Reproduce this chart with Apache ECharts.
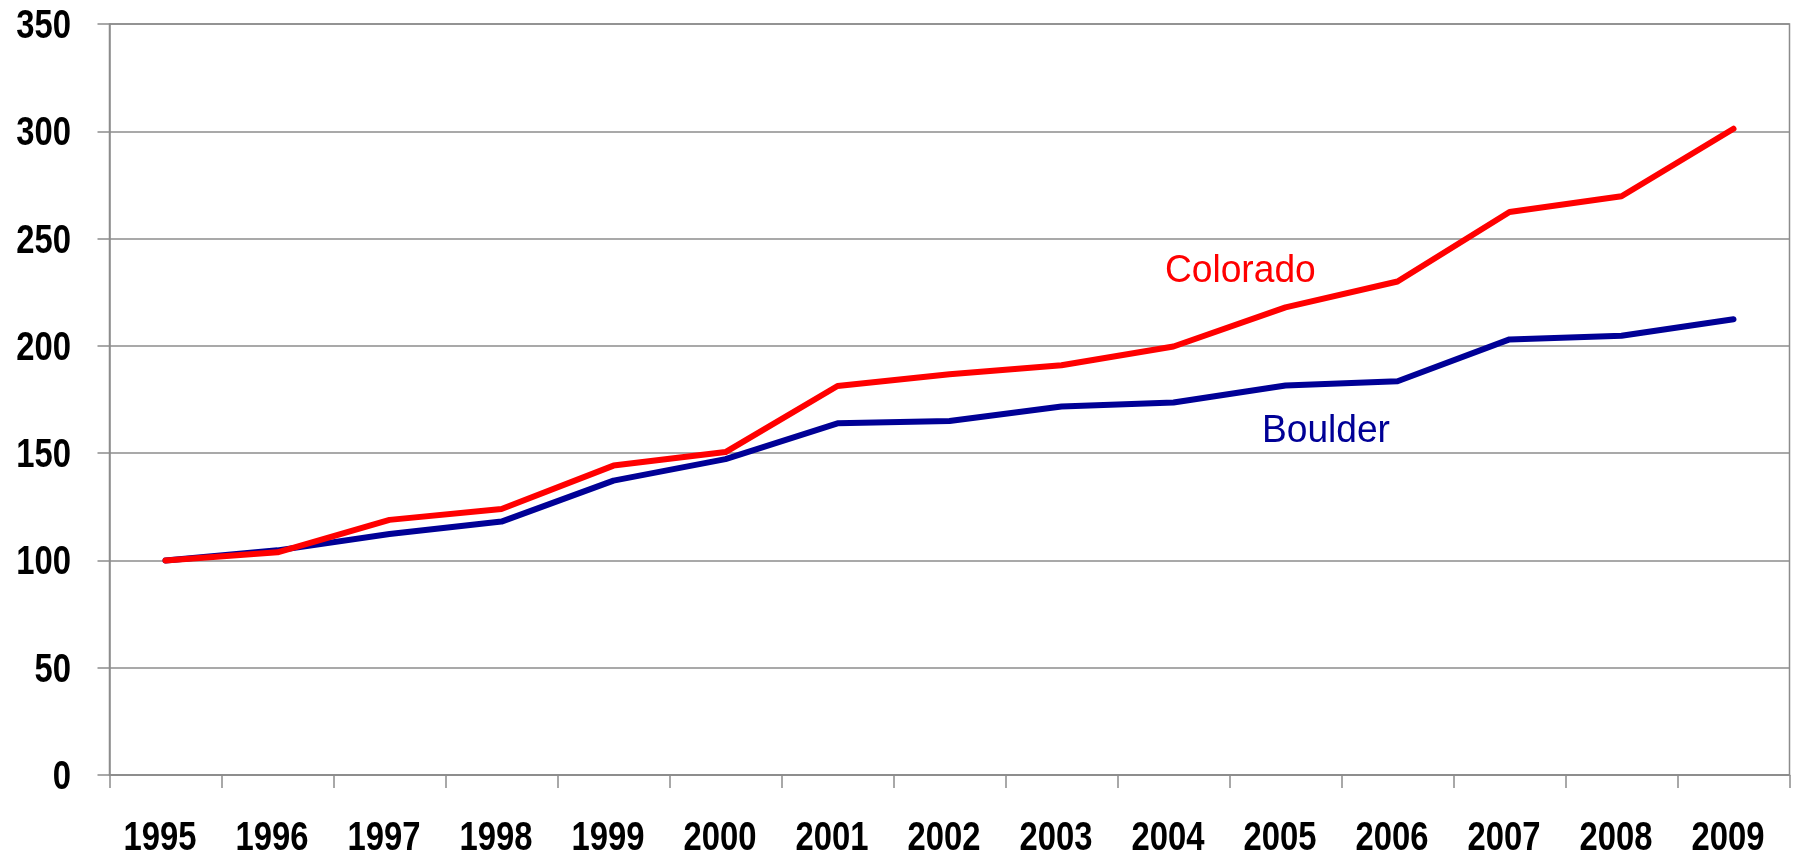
<!DOCTYPE html>
<html>
<head>
<meta charset="utf-8">
<script src="https://cdn.jsdelivr.net/npm/echarts@6/dist/echarts.min.js"></script>
<style>
  html, body { margin: 0; padding: 0; background: #fff; }
  #chart { width: 1794px; height: 859px; }
</style>
</head>
<body>
<div id="chart"></div>
<script>
// Index of growth, 1995 = 100
const years = ['1995', '1996', '1997', '1998', '1999', '2000', '2001', '2002',
               '2003', '2004', '2005', '2006', '2007', '2008', '2009'];
const colorado = [100, 103.8, 118.9, 124.0, 144.2, 150.5, 181.3, 186.8,
                  191.0, 199.7, 217.9, 230.0, 262.4, 269.7, 301.2];
const boulder = [100, 104.7, 112.3, 118.1, 137.2, 147.2, 163.9, 165.0,
                 171.7, 173.6, 181.5, 183.5, 203.0, 204.7, 212.4];
const yTickLabels = ['0', '50', '100', '150', '200', '250', '300', '350'];

const labelFont = '"Liberation Sans", Arial, sans-serif';
const gridGray = '#8c8c8c';
const red = '#ff0000';
const navy = '#000096';

const chart = echarts.init(document.getElementById('chart'), null, { renderer: 'canvas' });

chart.setOption({
  animation: false,
  backgroundColor: '#ffffff',
  grid: {
    left: 109.5, right: 4.5, top: 24, bottom: 84,
    show: true, borderColor: gridGray, borderWidth: 1.5, backgroundColor: 'transparent'
  },
  xAxis: {
    type: 'category',
    data: years,
    boundaryGap: true,
    axisLine: { lineStyle: { color: gridGray, width: 1.5 } },
    axisTick: { show: true, interval: 0, length: 13, lineStyle: { color: gridGray, width: 1.5 } },
    axisLabel: { show: false },
    splitLine: { show: false }
  },
  yAxis: {
    type: 'value',
    min: Number(yTickLabels[0]),
    max: Number(yTickLabels[yTickLabels.length - 1]),
    interval: Number(yTickLabels[1]) - Number(yTickLabels[0]),
    axisLine: { show: true, lineStyle: { color: gridGray, width: 1.5 } },
    axisTick: { show: true, length: 12, lineStyle: { color: gridGray, width: 1.5 } },
    axisLabel: { show: false },
    splitLine: { show: true, lineStyle: { color: gridGray, width: 1.5 } }
  },
  series: [
    {
      name: 'Boulder', type: 'line', data: boulder,
      symbol: 'none', smooth: false,
      lineStyle: { color: navy, width: 6, cap: 'round', join: 'round' }
    },
    {
      name: 'Colorado', type: 'line', data: colorado,
      symbol: 'none', smooth: false,
      lineStyle: { color: red, width: 6, cap: 'round', join: 'round' }
    }
  ]
});

// Tick labels in a narrow face: placed from the axes' own scales,
// then squeezed horizontally around their anchor.
const tickFont = 'bold 40px ' + labelFont;
const squeeze = 0.82;
const graphics = [];

years.forEach(function (yr) {
  const p = chart.convertToPixel({ xAxisIndex: 0, yAxisIndex: 0 }, [yr, 0]);
  graphics.push({
    type: 'text', x: p[0] - 5.5, y: p[1] + 64, scaleX: squeeze,
    style: { text: yr, x: 0, y: 0, align: 'center', verticalAlign: 'middle', font: tickFont, fill: '#000' }
  });
});

yTickLabels.forEach(function (lbl) {
  const p = chart.convertToPixel({ xAxisIndex: 0, yAxisIndex: 0 }, [years[0], Number(lbl)]);
  graphics.push({
    type: 'text', x: 71, y: p[1] + 3, scaleX: squeeze,
    style: { text: lbl, x: 0, y: 0, align: 'right', verticalAlign: 'middle', font: tickFont, fill: '#000' }
  });
});

// Series names written beside their lines
graphics.push({
  type: 'text', x: 1165, y: 271, scaleX: 0.94,
  style: { text: 'Colorado', x: 0, y: 0, align: 'left', verticalAlign: 'middle', font: '39.5px ' + labelFont, fill: red }
});
graphics.push({
  type: 'text', x: 1262, y: 431, scaleX: 0.94,
  style: { text: 'Boulder', x: 0, y: 0, align: 'left', verticalAlign: 'middle', font: '39.5px ' + labelFont, fill: navy }
});

chart.setOption({ graphic: graphics });
</script>
</body>
</html>
